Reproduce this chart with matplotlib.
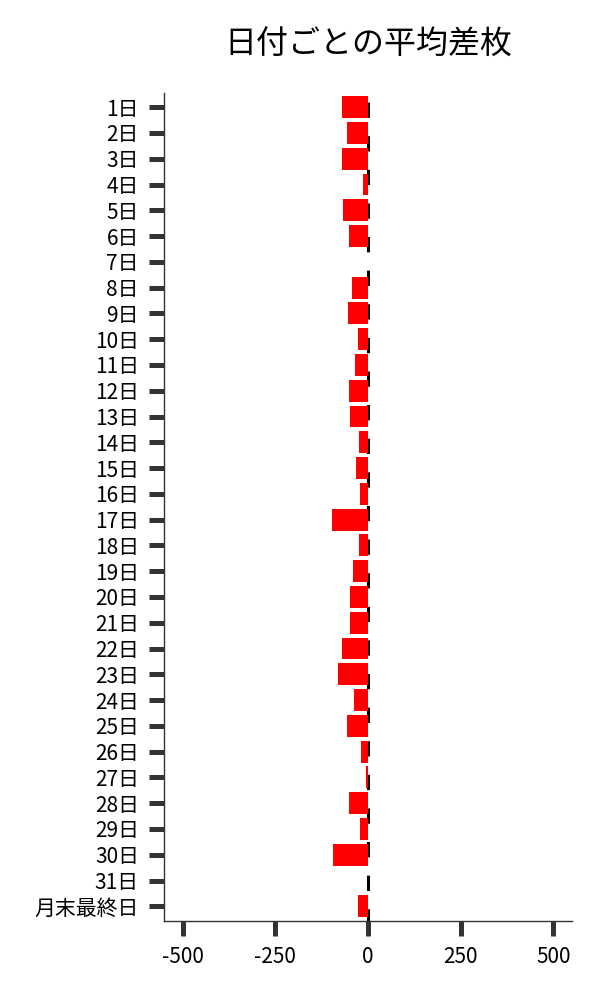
import matplotlib
matplotlib.use("Agg")
import matplotlib.pyplot as plt

plt.rcParams['font.family'] = ['Noto Sans CJK JP', 'DejaVu Sans']
plt.rcParams['axes.unicode_minus'] = False

# 日付ごとの平均差枚
days = [str(i) + '日' for i in range(1, 32)] + ['月末最終日']
avg_diff = [-70, -57, -70, -14, -68, -51, 0, -43, -54, -27,
            -35, -51, -49, -24, -32, -22, -97, -24, -41, -49,
            -49, -70, -81, -38, -57, -19, -4, -51, -22, -95,
            -1, -28]

fig = plt.figure(figsize=(6, 10), dpi=100)
ax = fig.add_axes([0.2733, 0.079, 0.68, 0.828])

pos = list(range(len(days)))
ax.axvline(0, color='black', linewidth=2.2, linestyle=(1, (5, 6)), zorder=1)
ax.barh(pos, avg_diff, height=0.85, color='red', zorder=2)

ax.set_yticks(pos)
ax.set_yticklabels(days)
ax.set_ylim(31.57, -0.55)
ax.set_xlim(-550, 550)
ax.set_xticks([-500, -250, 0, 250, 500])

ax.tick_params(axis='both', labelsize=15, color='#333333', width=3.6, length=11, pad=7)
for s in ['top', 'right']:
    ax.spines[s].set_visible(False)
for s in ['left', 'bottom']:
    ax.spines[s].set_color('#333333')
    ax.spines[s].set_linewidth(1)

ax.set_title('日付ごとの平均差枚', fontsize=23, pad=28)

fig.savefig('out.png')
